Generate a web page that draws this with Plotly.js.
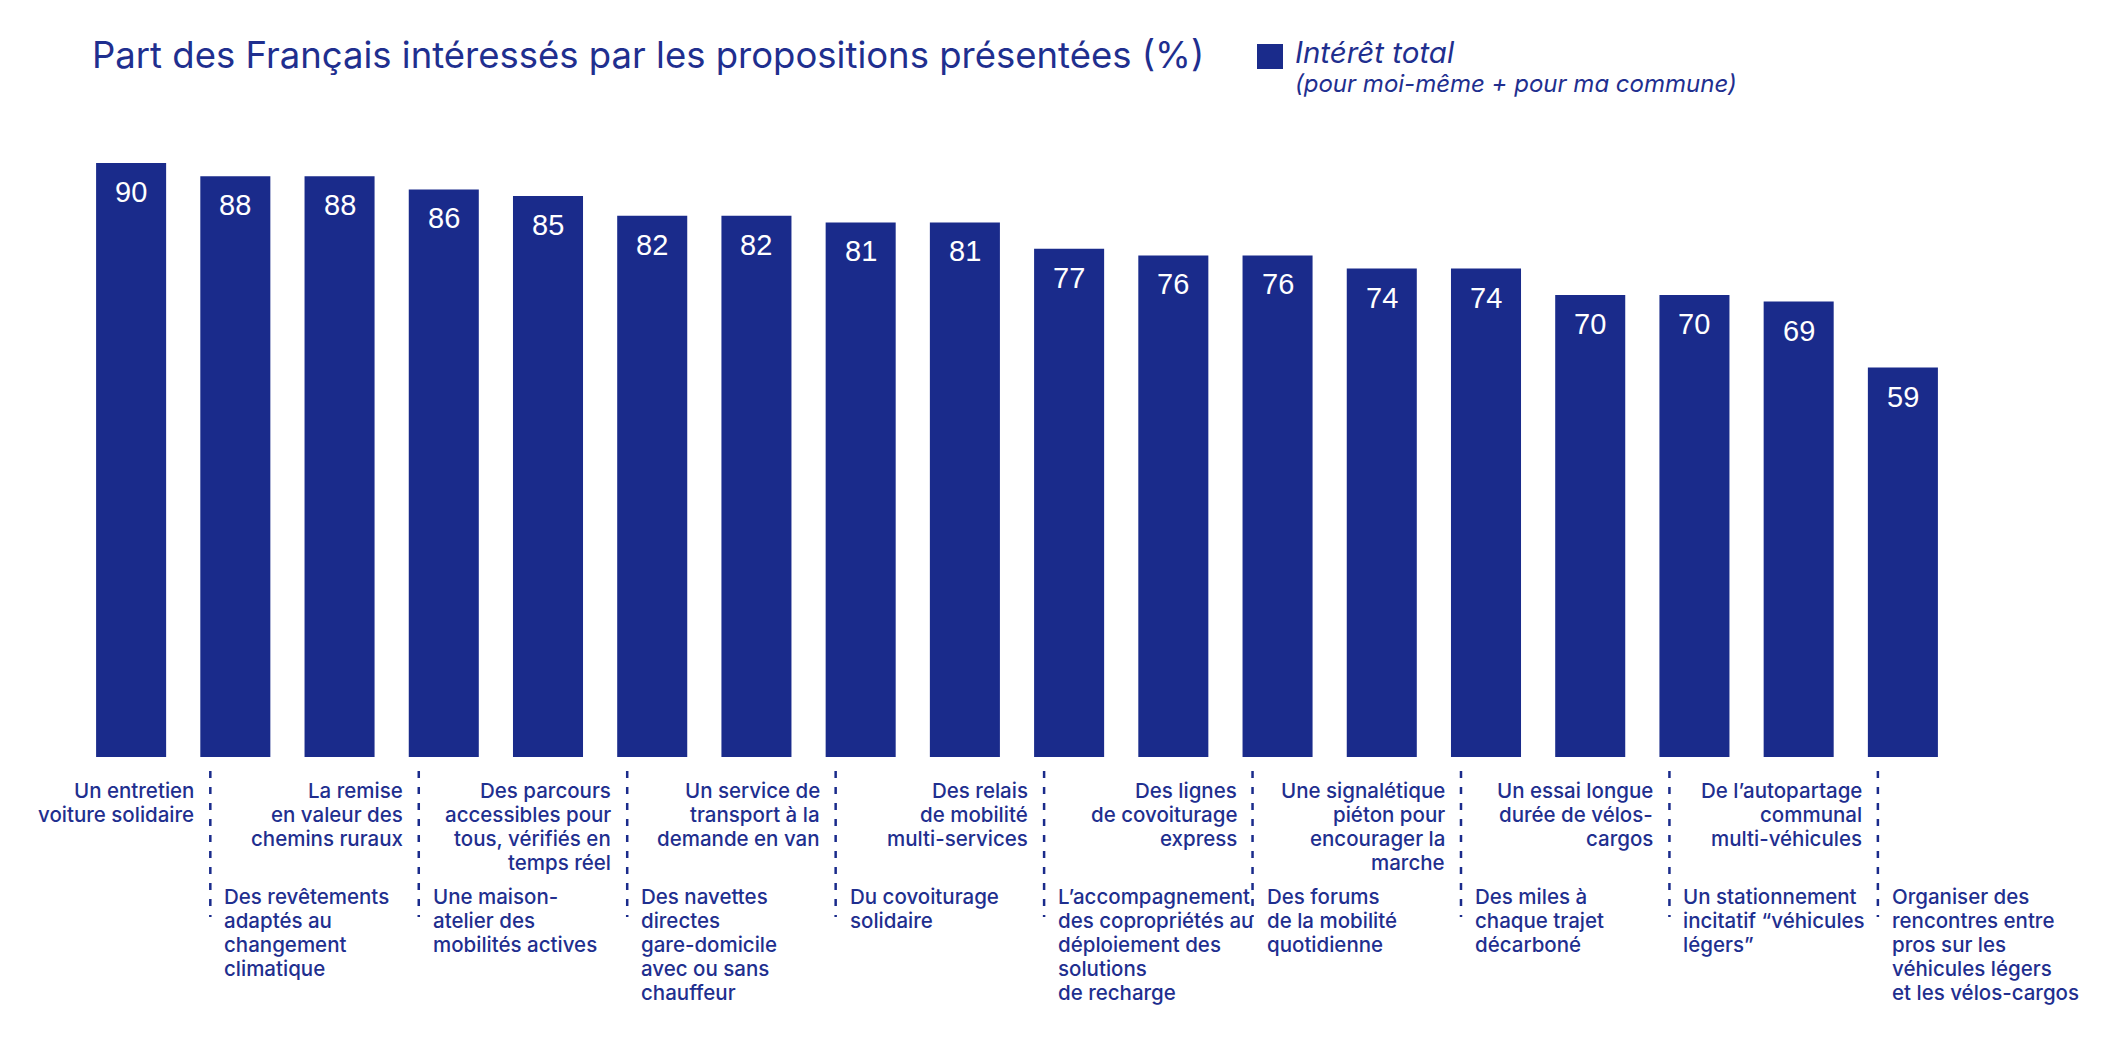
<!DOCTYPE html>
<html>
<head>
<meta charset="utf-8">
<script src="https://cdn.plot.ly/plotly-3.0.1.min.js"></script>
<style>
  html, body { margin: 0; padding: 0; background: #ffffff; }
  #chart { width: 2106px; height: 1044px; }
</style>
</head>
<body>
<div id="chart"></div>
<script>
// Propositions, in the order of the bars (line breaks as printed under the axis)
const propositions = [
  "Un entretien<br>voiture solidaire",
  "Des revêtements<br>adaptés au<br>changement<br>climatique",
  "La remise<br>en valeur des<br>chemins ruraux",
  "Une maison-<br>atelier des<br>mobilités actives",
  "Des parcours<br>accessibles pour<br>tous, vérifiés en<br>temps réel",
  "Des navettes<br>directes<br>gare-domicile<br>avec ou sans<br>chauffeur",
  "Un service de<br>transport à la<br>demande en van",
  "Du covoiturage<br>solidaire",
  "Des relais<br>de mobilité<br>multi-services",
  "L’accompagnement<br>des copropriétés au<br>déploiement des<br>solutions<br>de recharge",
  "Des lignes<br>de covoiturage<br>express",
  "Des forums<br>de la mobilité<br>quotidienne",
  "Une signalétique<br>piéton pour<br>encourager la<br>marche",
  "Des miles à<br>chaque trajet<br>décarboné",
  "Un essai longue<br>durée de vélos-<br>cargos",
  "Un stationnement<br>incitatif “véhicules<br>légers”",
  "De l’autopartage<br>communal<br>multi-véhicules",
  "Organiser des<br>rencontres entre<br>pros sur les<br>véhicules légers<br>et les vélos-cargos"
];

// Share of respondents interested (%)
const interetTotal = [90, 88, 88, 86, 85, 82, 82, 81, 81, 77, 76, 76, 74, 74, 70, 70, 69, 59];

const titre = "Part des Français intéressés par les propositions présentées (%)";
const legendeNom = "Intérêt total";
const legendeDetail = "(pour moi-même + pour ma commune)";

// ---- styling ----
const BLEU = "#1a2b8b";
const TEXTE = "#1f2f8f";
const POLICE = "Inter, 'Open Sans', sans-serif";
const POLICE_VALEUR = "'Liberation Sans', Arial, sans-serif";

const W = 2106, H = 1044;
const M = { l: 79, r: 151, t: 97, b: 287 };
const plotW = W - M.l - M.r;
const plotH = H - M.t - M.b;

// pixel -> paper helpers for layout decorations
const px2paperX = px => (px - M.l) / plotW;
const px2paperY = py => (H - M.b - py) / plotH;

const categories = propositions.map(s => s.replace(/<br>/g, " "));

const SEP_OFFSET = -0.24;    // separator position relative to the odd bars (category units)
const LINE_H = 24;           // label line spacing (px)
const TOP_FIRST = 33;        // first line of upper labels, px below the baseline
const BOTTOM_FIRST = 139;    // first line of lower labels, px below the baseline

const annotations = [];
const shapes = [];

// values written inside the top of each bar
interetTotal.forEach((v, i) => {
  annotations.push({
    x: i, y: v, xref: "x", yref: "y",
    text: String(v), showarrow: false,
    xanchor: "center", yanchor: "middle", yshift: -29,
    font: { family: POLICE_VALEUR, size: 29, color: "#ffffff" }
  });
});

// separators sit under every second bar
propositions.forEach((_, i) => {
  if (i % 2 === 1) {
    shapes.push({
      type: "line", xref: "x", yref: "paper",
      x0: i + SEP_OFFSET, x1: i + SEP_OFFSET,
      y0: px2paperY(771), y1: px2paperY(917),
      line: { color: BLEU, width: 2.5, dash: "7px,9px" }
    });
  }
});

// category labels: even bars above (right-aligned before the separator),
// odd bars below (left-aligned after the separator)
propositions.forEach((label, i) => {
  const lines = label.split("<br>");
  const haut = i % 2 === 0;
  const sepX = haut ? (i + 1) + SEP_OFFSET : i + SEP_OFFSET;
  lines.forEach((ligne, j) => {
    annotations.push({
      x: sepX, xref: "x", y: 0, yref: "paper",
      text: ligne, showarrow: false,
      xanchor: haut ? "right" : "left",
      xshift: haut ? -14 : 12,
      yanchor: "middle",
      yshift: -((haut ? TOP_FIRST : BOTTOM_FIRST) + LINE_H * j),
      font: { family: POLICE, size: 20.5, color: TEXTE, weight: 500 }
    });
  });
});

// legend key
shapes.push({
  type: "rect", xref: "paper", yref: "paper",
  x0: px2paperX(1257), x1: px2paperX(1283),
  y0: px2paperY(69), y1: px2paperY(44),
  fillcolor: BLEU, line: { width: 0 }
});
annotations.push({
  x: px2paperX(1293), xref: "paper", y: px2paperY(52), yref: "paper",
  text: legendeNom, showarrow: false, xanchor: "left", yanchor: "middle",
  font: { family: POLICE, size: 29.5, color: TEXTE, style: "italic" }
});
annotations.push({
  x: px2paperX(1293), xref: "paper", y: px2paperY(84), yref: "paper",
  text: legendeDetail, showarrow: false, xanchor: "left", yanchor: "middle",
  font: { family: POLICE, size: 24, color: TEXTE, style: "italic" }
});

const trace = {
  type: "bar",
  x: categories,
  y: interetTotal,
  width: 0.672,
  marker: { color: BLEU, line: { width: 0 } },
  hovertemplate: "%{x}<br>%{y} %<extra></extra>",
  showlegend: false
};

const layout = {
  width: W, height: H,
  margin: M,
  paper_bgcolor: "#ffffff",
  plot_bgcolor: "#ffffff",
  title: {
    text: titre,
    x: 92 / W, xref: "container", xanchor: "left",
    y: 1 - 55 / H, yref: "container", yanchor: "middle",
    font: { family: POLICE, size: 36.5, color: TEXTE }
  },
  xaxis: {
    type: "category",
    range: [-0.5, 17.5],
    showticklabels: false, showgrid: false, zeroline: false,
    showline: false, ticks: ""
  },
  yaxis: {
    range: [0, 100],
    visible: false, showgrid: false, zeroline: false
  },
  bargap: 0.33,
  showlegend: false,
  annotations: annotations,
  shapes: shapes
};

Plotly.newPlot("chart", [trace], layout, { displayModeBar: false, staticPlot: true });
</script>
</body>
</html>
